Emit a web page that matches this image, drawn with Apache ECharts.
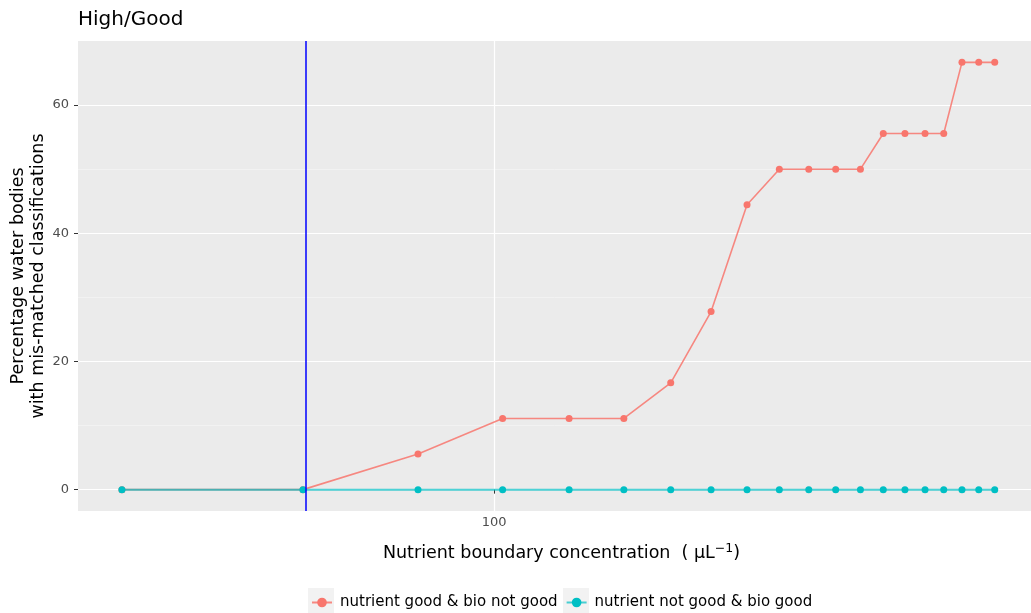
<!DOCTYPE html>
<html>
<head>
<meta charset="utf-8">
<script src="https://cdn.jsdelivr.net/npm/echarts@6/dist/echarts.min.js"></script>
<style>
  html, body { margin: 0; padding: 0; background: #ffffff; }
  #chart { width: 1031px; height: 613px; }
</style>
</head>
<body>
<div id="chart"></div>
<script>
// Nutrient boundary concentrations tested (µL^-1)
const boundaries = [31, 54.8, 78.7, 102.7, 126.6, 150.4, 174.3, 197.9, 221.6, 245.3,
                    269.1, 292.9, 316.6, 340.2, 364.2, 388, 411.5, 435.8, 459.4, 483.1];
// % water bodies: nutrient good but biology not good
const nutGoodBioNot = [0, 0, 5.56, 11.11, 11.11, 11.11, 16.67, 27.78, 44.44, 50,
                       50, 50, 50, 55.56, 55.56, 55.56, 55.56, 66.67, 66.67, 66.67];
// % water bodies: nutrient not good but biology good
const nutNotBioGood = [0, 0, 0, 0, 0, 0, 0, 0, 0, 0,
                       0, 0, 0, 0, 0, 0, 0, 0, 0, 0];
// Current High/Good boundary value
const currentBoundary = 55.2;

const seriesNames = ['nutrient good & bio not good', 'nutrient not good & bio good'];
const xTicks = [100];
const yMajorTicks = [0, 20, 40, 60];
const yMinorTicks = [10, 30, 50];

const FONT = 'DejaVu Sans';
const RED = '#F8766D';
const TEAL = '#00BFC4';

const pairs = (xs, ys) => xs.map((x, i) => [x, ys[i]]);

const chart = echarts.init(document.getElementById('chart'), null, { renderer: 'canvas' });

chart.setOption({
  animation: false,
  backgroundColor: '#ffffff',
  title: {
    text: 'High/Good',
    left: 73,
    top: 5,
    textStyle: { fontFamily: FONT, fontSize: 20, fontWeight: 'normal', color: '#000000' }
  },
  grid: {
    left: 78, top: 41, right: 0, bottom: 102,
    outerBoundsMode: 'none',
    containLabel: false,
    show: true, backgroundColor: '#EBEBEB', borderWidth: 0
  },
  legend: {
    data: seriesNames,
    left: 311,
    top: 595,
    padding: 0,
    itemWidth: 20,
    itemHeight: 12,
    itemGap: 8,
    z: 4,
    textStyle: { fontFamily: FONT, fontSize: 15, color: '#000000', padding: [0, 0, 0, 3] }
  },
  graphic: [
    { type: 'rect', z: 0, shape: { x: 308, y: 588, width: 26, height: 25 }, style: { fill: '#F2F2F2' } },
    { type: 'rect', z: 0, shape: { x: 563, y: 588, width: 26, height: 25 }, style: { fill: '#F2F2F2' } }
  ],
  xAxis: {
    type: 'log',
    logBase: 10,
    min: 27.0,
    max: 541.5,
    name: 'Nutrient boundary concentration  ( {u|μL}{s|−1}{u|)}',
    nameLocation: 'middle',
    nameGap: 31,
    nameTextStyle: {
      fontFamily: FONT, fontSize: 17.5, color: '#000000', padding: [0, 0, 0, 14],
      rich: {
        u: { fontFamily: FONT, fontSize: 17.5, color: '#000000' },
        s: { fontFamily: FONT, fontSize: 12.5, color: '#000000', verticalAlign: 'bottom', padding: [0, 0, 10, 0] }
      }
    },
    axisLine: { show: false },
    axisTick: { show: true, length: 4, customValues: xTicks, lineStyle: { color: '#333333', width: 1 } },
    axisLabel: {
      customValues: xTicks, margin: 5,
      fontFamily: FONT, fontSize: 13, color: '#4D4D4D'
    },
    splitLine: { show: true, lineStyle: { color: '#ffffff', width: 1.2 } },
    minorSplitLine: { show: false }
  },
  yAxis: [
    {
      type: 'value',
      min: -3.3335,
      max: 70,
      name: 'Percentage water bodies\nwith mis-matched classifications',
      nameLocation: 'middle',
      nameRotate: 90,
      nameGap: 30,
      nameMoveOverlap: false,
      nameTextStyle: { fontFamily: FONT, fontSize: 17.5, color: '#000000', lineHeight: 20 },
      axisLine: { show: false },
      axisTick: { show: true, length: 4, customValues: yMajorTicks, lineStyle: { color: '#333333', width: 1 } },
      axisLabel: {
        customValues: yMajorTicks, margin: 9,
        fontFamily: FONT, fontSize: 13, color: '#4D4D4D'
      },
      splitLine: { show: true, lineStyle: { color: '#ffffff', width: 1.2 } }
    },
    {
      type: 'value',
      min: -3.3335,
      max: 70,
      axisLine: { show: false },
      axisTick: { show: false, customValues: yMinorTicks },
      axisLabel: { show: false, customValues: yMinorTicks },
      splitLine: { show: true, lineStyle: { color: '#F7F7F7', width: 0.6 } }
    }
  ],
  series: [
    {
      name: seriesNames[0],
      type: 'line',
      yAxisIndex: 0,
      data: pairs(boundaries, nutGoodBioNot),
      symbol: 'circle',
      symbolSize: 7,
      color: RED,
      itemStyle: { color: RED },
      lineStyle: { color: RED, width: 1.6, opacity: 0.85 },
      z: 3
    },
    {
      name: seriesNames[1],
      type: 'line',
      yAxisIndex: 0,
      data: pairs(boundaries, nutNotBioGood),
      symbol: 'circle',
      symbolSize: 7,
      color: TEAL,
      itemStyle: { color: TEAL },
      lineStyle: { color: TEAL, width: 2, opacity: 0.7 },
      z: 4,
      markLine: {
        silent: true,
        symbol: ['none', 'none'],
        label: { show: false },
        lineStyle: { color: '#0000FF', width: 1.5, type: 'solid', opacity: 1 },
        data: [{ xAxis: currentBoundary }]
      }
    }
  ]
});
</script>
</body>
</html>
